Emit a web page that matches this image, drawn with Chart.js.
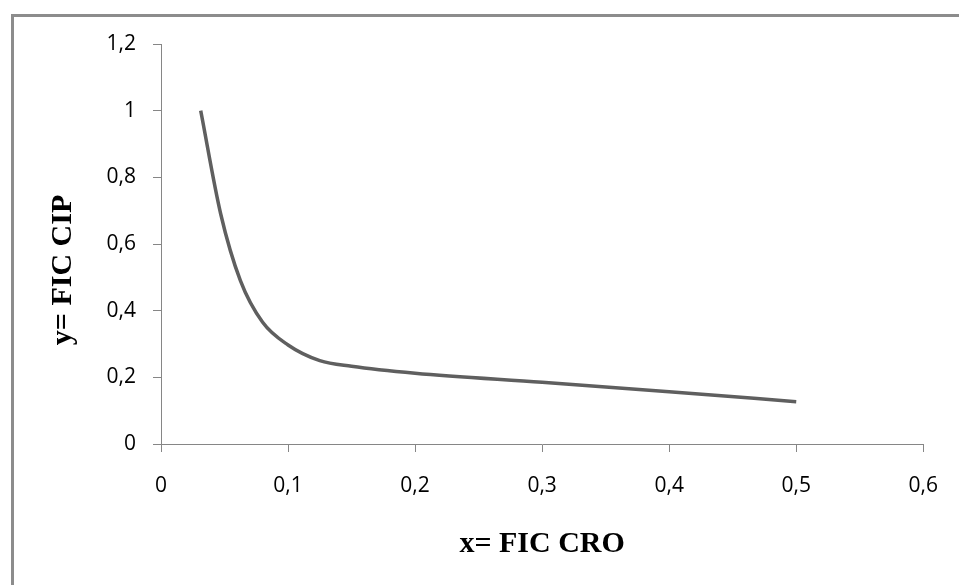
<!DOCTYPE html>
<html>
<head>
<meta charset="utf-8">
<script src="https://cdn.jsdelivr.net/npm/chart.js@4"></script>
<style>
  html, body { margin: 0; padding: 0; background: #fff; overflow: hidden; }
  #wrap { position: relative; width: 959px; height: 585px; }
  #frame {
    position: absolute; left: 11px; top: 14px;
    width: 1000px; height: 700px;
    border: 3px solid #8c8c8c;
  }
  canvas { position: absolute; left: 0; top: 0; }
</style>
</head>
<body>
<div id="wrap">
  <canvas id="chart" width="959" height="585"></canvas>
  <div id="frame"></div>
</div>
<script>
// FIC values
const ficCro = [0.03125, 0.047, 0.0625, 0.08, 0.1, 0.125, 0.15, 0.2, 0.3, 0.4, 0.5];
const ficCip = [1, 0.69, 0.49, 0.365, 0.297, 0.25, 0.233, 0.212, 0.185, 0.157, 0.127];

const xTitle = "x= FIC CRO";
const yTitle = "y= FIC CIP";

const axisGrey = "#868686";
const tickFont = { family: "'Open Sans', sans-serif", size: 21 };

// comma decimals like the original
const fmt = (v) => String(Math.round(v * 10) / 10).replace(".", ",");

// axis titles drawn at the spots they sit in the picture
const titlePlugin = {
  id: "axisTitles",
  afterDraw(chart) {
    const c = chart.ctx;
    c.save();
    c.fillStyle = "#000";
    c.font = "bold 30px 'Liberation Serif', serif";
    c.textAlign = "center";
    c.textBaseline = "alphabetic";
    const area = chart.chartArea;
    c.fillText(xTitle, (area.left + area.right) / 2, 552);
    c.translate(71, 270);
    c.rotate(-Math.PI / 2);
    c.fillText(yTitle, 0, 0);
    c.restore();
  }
};

const points = ficCro.map((x, i) => ({ x: x, y: ficCip[i] }));

new Chart(document.getElementById("chart"), {
  type: "scatter",
  data: {
    datasets: [{
      data: points,
      showLine: true,
      borderColor: "#5f5f5f",
      borderWidth: 3.5,
      pointRadius: 0,
      cubicInterpolationMode: "monotone",
      fill: false
    }]
  },
  options: {
    responsive: false,
    animation: false,
    devicePixelRatio: 1,
    layout: { padding: { top: 44, right: 34, left: 0, bottom: 0 } },
    plugins: { legend: { display: false }, tooltip: { enabled: false } },
    scales: {
      x: {
        type: "linear",
        min: 0, max: 0.6,
        afterFit: (s) => { s.height = 141; },
        border: { color: axisGrey, width: 1 },
        grid: { drawOnChartArea: false, drawTicks: true, tickLength: 8, color: axisGrey },
        ticks: { stepSize: 0.1, color: "#000", font: tickFont, padding: 21, callback: fmt, maxRotation: 0 }
      },
      y: {
        min: 0, max: 1.2,
        afterFit: (s) => { s.width = 161; },
        border: { color: axisGrey, width: 1 },
        grid: { drawOnChartArea: false, drawTicks: true, tickLength: 8, color: axisGrey },
        ticks: { stepSize: 0.2, color: "#000", font: tickFont, padding: 17, callback: fmt }
      }
    }
  },
  plugins: [titlePlugin]
});
</script>
</body>
</html>
